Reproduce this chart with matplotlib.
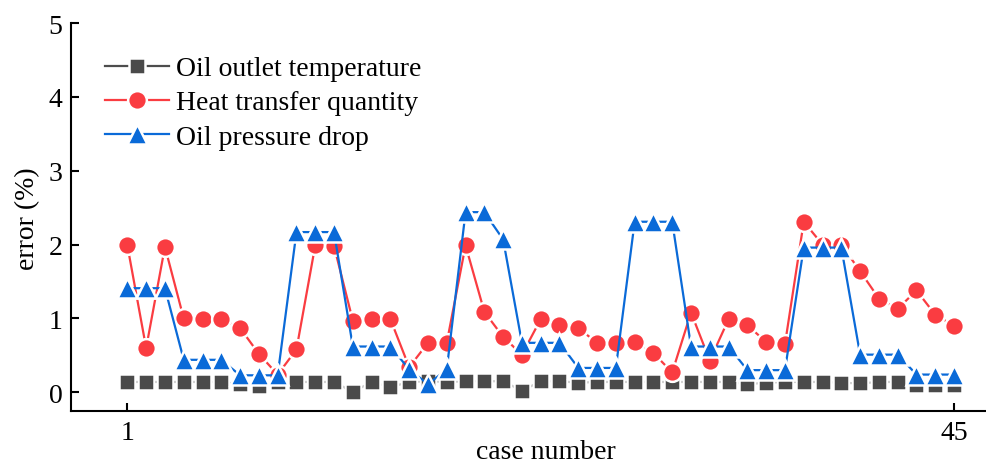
import matplotlib
matplotlib.use("Agg")
import matplotlib.pyplot as plt
import numpy as np

plt.rcParams['font.family'] = ['Liberation Serif', 'DejaVu Serif']

cases = list(range(1, 46))
oil_outlet_temp = [0.14, 0.14, 0.14, 0.14, 0.14, 0.14, 0.11, 0.085, 0.14, 0.14, 0.14, 0.14, 0.005, 0.14, 0.07,
                   0.14, 0.15, 0.14, 0.15, 0.15, 0.15, 0.02, 0.15, 0.15, 0.13, 0.14, 0.14, 0.14, 0.14, 0.14,
                   0.14, 0.14, 0.14, 0.11, 0.13, 0.14, 0.14, 0.14, 0.13, 0.12, 0.14, 0.14, 0.10, 0.10, 0.10]
heat_transfer = [1.99, 0.60, 1.97, 1.00, 0.99, 0.99, 0.87, 0.52, 0.24, 0.58, 1.99, 1.98, 0.97, 0.99, 0.99,
                 0.34, 0.67, 0.67, 1.99, 1.09, 0.75, 0.51, 0.99, 0.91, 0.87, 0.67, 0.67, 0.68, 0.53, 0.27,
                 1.08, 0.43, 0.99, 0.91, 0.68, 0.65, 2.31, 2.00, 2.00, 1.64, 1.27, 1.13, 1.38, 1.05, 0.90]
pressure_drop = [1.41, 1.41, 1.41, 0.44, 0.44, 0.44, 0.23, 0.23, 0.23, 2.17, 2.17, 2.17, 0.62, 0.62, 0.62,
                 0.31, 0.11, 0.31, 2.44, 2.44, 2.07, 0.67, 0.67, 0.67, 0.33, 0.33, 0.33, 2.31, 2.31, 2.31,
                 0.62, 0.62, 0.62, 0.30, 0.30, 0.30, 1.96, 1.96, 1.96, 0.51, 0.51, 0.51, 0.24, 0.24, 0.24]

labels = ["Oil outlet temperature", "Heat transfer quantity", "Oil pressure drop"]
x_ticks = [1, 45]
y_ticks = [0, 1, 2, 3, 4, 5]

fig = plt.figure(figsize=(9.86, 4.64), dpi=100)
ax = fig.add_axes([0.072, 0.111, 0.928, 0.837])

ax.plot(cases, oil_outlet_temp, color='#4d4d4d', lw=1.6, marker='s', ms=12,
        mfc='#4a4a4a', mec='white', mew=1.8, label=labels[0], zorder=2)
ax.plot(cases, heat_transfer, color='#fa3c41', lw=1.6, marker='o', ms=13.5,
        mfc='#fa3c41', mec='white', mew=1.8, label=labels[1], zorder=3)
ax.plot(cases, pressure_drop, color='#0a6ad8', lw=1.6, marker='^', ms=14.5,
        mfc='#0a6ad8', mec='white', mew=1.8, label=labels[2], zorder=4)

ax.set_xlim(-2, 46.7)
ax.set_ylim(-0.26, 5)
ax.set_xticks(x_ticks)
ax.set_yticks(y_ticks)
ax.tick_params(direction='in', length=6, width=1.5, labelsize=20, pad=6)
for s in ['top', 'right']:
    ax.spines[s].set_visible(False)
for s in ['left', 'bottom']:
    ax.spines[s].set_linewidth(1.5)

ax.set_xlabel("case number", fontsize=20)
ax.set_ylabel("error (%)", fontsize=20)
ax.xaxis.set_label_coords(0.519, -0.072)
ax.yaxis.set_label_coords(-0.034, 0.5)

leg = ax.legend(loc='upper left', bbox_to_anchor=(0.0255, 0.944), frameon=False, fontsize=20,
                handlelength=2.3, handletextpad=0.25, labelspacing=0.31, borderaxespad=0)

fig.savefig("out.png", dpi=100)
